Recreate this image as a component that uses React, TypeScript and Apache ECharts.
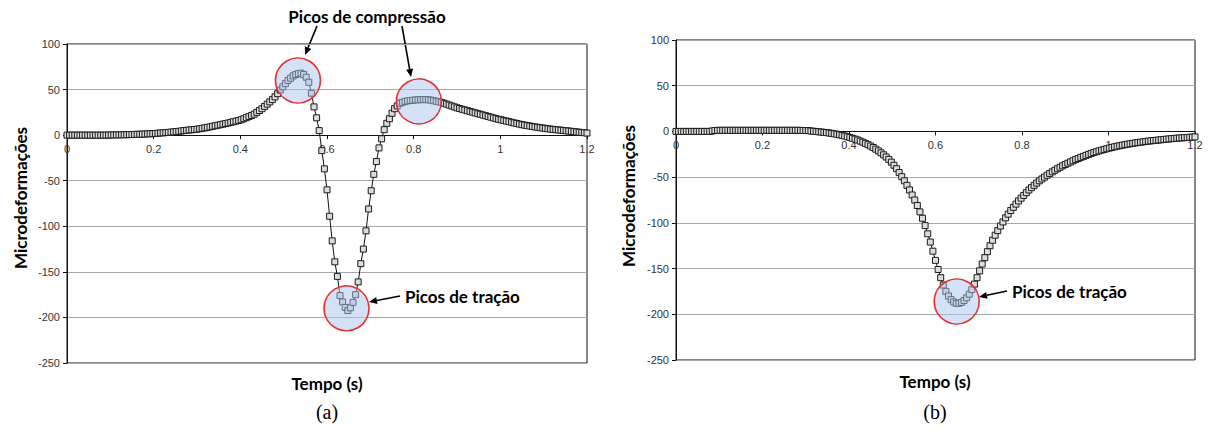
import React, { useEffect, useRef } from "react";
import * as echarts from "echarts";

// sampling grid of both recordings (s)
const TIME_STEP = 0.006;

// (a) strain readings, one per TIME_STEP from 0 to 1.2 s
const STRAIN_A = [
  0, 0, 0, 0, 0, 0, 0, 0, 0, 0, 0, 0, 0, 0, 0, 0, 0.1, 0.2, 0.2, 0.3,
  0.3, 0.4, 0.4, 0.5, 0.6, 0.7, 0.8, 0.9, 1.0, 1.1, 1.2, 1.4, 1.5, 1.7, 1.9, 2.1, 2.4, 2.6, 2.8, 3.0,
  3.3, 3.6, 3.9, 4.2, 4.6, 5.0, 5.3, 5.6, 5.9, 6.2, 6.5, 7.0, 7.5, 8.0, 8.5, 9.1, 9.7, 10.3, 10.9, 11.5,
  12.1, 12.7, 13.3, 14.0, 14.7, 15.4, 16.1, 16.9, 18.0, 19.2, 20.4, 21.6, 23.0, 25.0, 27.0, 29.0, 31.5, 34.0, 36.5, 39.0,
  42.0, 45.5, 49.5, 53.0, 56.5, 60.0, 62.5, 65.0, 66.5, 67.5, 68.0, 66.5, 63.5, 58.0, 46.0, 31.0, 19.0, 5.0, -17.0, -37.0,
  -60.0, -89.0, -116.0, -139.0, -155.0, -176.0, -183.0, -189.0, -192.5, -189.5, -183.5, -175.0, -161.0, -141.0, -125.0, -105.0, -81.0, -61.0, -43.0, -29.0,
  -14.0, -4.0, 6.0, 13.0, 18.0, 24.0, 29.0, 32.0, 35.0, 36.0, 37.0, 37.6, 38.0, 38.3, 38.6, 38.8, 39.0, 39.0, 39.0, 38.8,
  38.4, 37.8, 37.2, 36.6, 36.0, 35.0, 34.0, 33.0, 32.0, 31.0, 30.0, 29.2, 28.4, 27.6, 26.8, 26.0, 25.2, 24.4, 23.6, 22.9,
  22.1, 21.3, 20.5, 19.7, 18.9, 18.1, 17.4, 16.8, 16.1, 15.4, 14.8, 14.1, 13.4, 12.8, 12.1, 11.5, 11.0, 10.5, 10.0, 9.5,
  9.0, 8.6, 8.2, 7.8, 7.4, 7.0, 6.6, 6.3, 6.0, 5.7, 5.4, 5.1, 4.8, 4.5, 4.2, 3.8, 3.5, 3.2, 2.9, 2.6,
  2.3,
];

// (b) strain readings, one per TIME_STEP from 0 to 1.2 s
const STRAIN_B = [
  0, 0, 0, 0, 0, 0, 0, 0, 0, 0, 0, 0, 0, 0, 0.5, 1.0, 1.2, 1.2, 1.2, 1.2,
  1.2, 1.2, 1.2, 1.2, 1.2, 1.2, 1.2, 1.2, 1.2, 1.2, 1.2, 1.2, 1.2, 1.2, 1.2, 1.2, 1.2, 1.2, 1.2, 1.2,
  1.2, 1.2, 1.2, 1.2, 1.2, 1.2, 1.2, 1.2, 1.1, 1.0, 1.0, 0.8, 0.5, 0.2, -0.1, -0.4, -0.7, -1.0, -1.3, -1.7,
  -2.1, -2.6, -3.1, -3.7, -4.3, -5.0, -5.8, -6.6, -7.5, -8.4, -9.4, -10.6, -11.8, -13.1, -14.5, -16.0, -17.6, -19.4, -21.3, -23.4,
  -25.6, -28.0, -30.6, -33.6, -37.0, -40.8, -45.0, -49.5, -54.0, -59.0, -64.0, -69.5, -75.0, -81.0, -88.0, -95.0, -103.0, -112.0, -121.0, -131.0,
  -141.0, -151.0, -160.0, -168.0, -175.0, -180.0, -184.0, -186.5, -188.0, -188.0, -187.0, -185.0, -182.0, -178.0, -173.0, -167.0, -160.0, -152.5, -145.0, -138.0,
  -131.5, -125.0, -119.0, -113.5, -108.5, -103.5, -99.0, -94.5, -90.5, -86.5, -83.0, -79.5, -76.0, -73.0, -70.0, -67.0, -64.0, -61.5, -59.0, -56.5,
  -54.0, -52.0, -50.0, -48.0, -46.0, -44.2, -42.5, -40.8, -39.2, -37.6, -36.2, -34.8, -33.4, -32.1, -30.8, -29.6, -28.4, -27.3, -26.2, -25.1,
  -24.1, -23.1, -22.2, -21.3, -20.5, -19.7, -18.9, -18.2, -17.5, -16.8, -16.2, -15.6, -15.0, -14.5, -14.0, -13.5, -13.0, -12.6, -12.2, -11.8,
  -11.4, -11.0, -10.6, -10.3, -10.0, -9.7, -9.4, -9.1, -8.8, -8.5, -8.2, -7.9, -7.7, -7.4, -7.2, -7.0, -6.8, -6.6, -6.4, -6.2,
  -6.0,
];

// axis ranges and tick labels
const X_MIN = 0;
const X_MAX = 1.2;
const X_STEP = 0.2;
const Y_MIN = -250;
const Y_MAX = 100;
const Y_STEP = 50;

// highlighted peaks [time, strain]
const PEAKS_A = [
  [0.533, 60],
  [0.812, 37],
  [0.645, -190],
];
const PEAKS_B = [[0.649, -186]];

// texts
const Y_TITLE = "Microdeformações";
const X_TITLE = "Tempo (s)";
const LABEL_COMP = "Picos de compressão";
const LABEL_TRAC = "Picos de tração";
const PANEL_A = "(a)";
const PANEL_B = "(b)";

const BOLD = 'bold 17px Lato, "Open Sans", sans-serif';

// plot boxes
const GRIDS = [
  { left: 67, top: 44, width: 520, height: 319 },
  { left: 676, top: 40, width: 519, height: 320 },
];

function toPairs(vals: number[]) {
  return vals.map((v, i) => [+(i * TIME_STEP).toFixed(3), v]);
}

function arrow(x1: number, y1: number, x2: number, y2: number) {
  const dx = x2 - x1;
  const dy = y2 - y1;
  const len = Math.sqrt(dx * dx + dy * dy);
  const ux = dx / len;
  const uy = dy / len;
  const hl = 8;
  const hw = 3.5;
  const bx = x2 - ux * hl;
  const by = y2 - uy * hl;
  return [
    {
      type: "line",
      shape: { x1, y1, x2: bx, y2: by },
      style: { stroke: "#000", lineWidth: 1.6 },
      silent: true,
    },
    {
      type: "polygon",
      shape: {
        points: [
          [x2, y2],
          [bx - uy * hw, by + ux * hw],
          [bx + uy * hw, by - ux * hw],
        ],
      },
      style: { fill: "#000" },
      silent: true,
    },
  ];
}

function text(t: string, x: number, y: number, font: string, align = "center", rotation = 0) {
  return {
    type: "text",
    x,
    y,
    rotation,
    silent: true,
    style: { text: t, font, fill: "#000", align, verticalAlign: "middle" },
  };
}

export default function App() {
  const ref = useRef<HTMLDivElement | null>(null);

  useEffect(() => {
    if (!ref.current) return;
    const chart = echarts.init(ref.current, null, { renderer: "svg" });

    // the time axis crosses at strain 0, as in the original plot
    const zeroOffset = (g: { height: number }) =>
      -(g.height * (0 - Y_MIN)) / (Y_MAX - Y_MIN);

    const xAxisBase = (gridIndex: number) => ({
      gridIndex,
      type: "value",
      min: X_MIN,
      max: X_MAX,
      interval: X_STEP,
      position: "bottom",
      offset: zeroOffset(GRIDS[gridIndex]),
      axisLine: { show: true, onZero: false, lineStyle: { color: "#111", width: 1 } },
      axisTick: { show: true, length: 4, lineStyle: { color: "#111" } },
      axisLabel: {
        fontSize: 11,
        color: "#333",
        margin: 8,
        fontFamily: '"Liberation Sans", Arial, sans-serif',
        formatter: (v: number) => String(+v.toFixed(1)),
      },
      splitLine: { show: false },
    });

    const yAxisBase = (gridIndex: number) => ({
      gridIndex,
      type: "value",
      min: Y_MIN,
      max: Y_MAX,
      interval: Y_STEP,
      axisLine: { show: true, onZero: false, lineStyle: { color: "#111", width: 1 } },
      axisTick: { show: true, length: 4, lineStyle: { color: "#111" } },
      axisLabel: {
        fontSize: 11,
        color: "#333",
        margin: 7,
        fontFamily: '"Liberation Sans", Arial, sans-serif',
      },
      splitLine: { show: true, lineStyle: { color: "#a8a8a8", width: 1 } },
    });

    const seriesBase = (idx: number, vals: number[], peaks: number[][]) => ({
      type: "line",
      xAxisIndex: idx,
      yAxisIndex: idx,
      data: toPairs(vals),
      symbol: "rect",
      symbolSize: 6,
      showSymbol: true,
      showAllSymbol: true,
      lineStyle: { color: "#111", width: 1 },
      itemStyle: { color: "#dcdcdc", borderColor: "#1c1c1c", borderWidth: 1 },
      emphasis: { disabled: true },
      silent: true,
      markPoint: {
        silent: true,
        symbol: "circle",
        symbolSize: 45,
        label: { show: false },
        itemStyle: {
          color: "rgba(170,195,240,0.5)",
          borderColor: "#e53030",
          borderWidth: 1.6,
        },
        data: peaks.map((p) => ({ coord: p })),
      },
    });

    const graphic: any[] = [
      text(Y_TITLE, 20, 198, BOLD, "center", Math.PI / 2),
      text(Y_TITLE, 628, 196, BOLD, "center", Math.PI / 2),
      text(X_TITLE, 327, 383, BOLD),
      text(X_TITLE, 935, 381, BOLD),
      text(PANEL_A, 327, 412, '20px "Liberation Serif", "Times New Roman", serif'),
      text(PANEL_B, 935, 412, '20px "Liberation Serif", "Times New Roman", serif'),
      text(LABEL_COMP, 367, 16, BOLD),
      text(LABEL_TRAC, 405, 296, BOLD, "left"),
      text(LABEL_TRAC, 1012, 291, BOLD, "left"),
      ...arrow(317, 26, 305, 55),
      ...arrow(402, 26, 411, 77),
      ...arrow(400, 296, 369, 302),
      ...arrow(1007, 291, 979, 297),
    ];

    chart.setOption({
      animation: false,
      backgroundColor: "#fff",
      grid: GRIDS.map((g) => ({
        ...g,
        show: true,
        borderColor: "#111",
        borderWidth: 1,
        backgroundColor: "transparent",
      })),
      xAxis: [xAxisBase(0), xAxisBase(1)],
      yAxis: [yAxisBase(0), yAxisBase(1)],
      series: [seriesBase(0, STRAIN_A, PEAKS_A), seriesBase(1, STRAIN_B, PEAKS_B)],
      graphic,
    });

    return () => chart.dispose();
  }, []);

  return (
    <div
      ref={ref}
      style={{ position: "absolute", left: 0, top: 0, width: 1208, height: 432 }}
    />
  );
}
